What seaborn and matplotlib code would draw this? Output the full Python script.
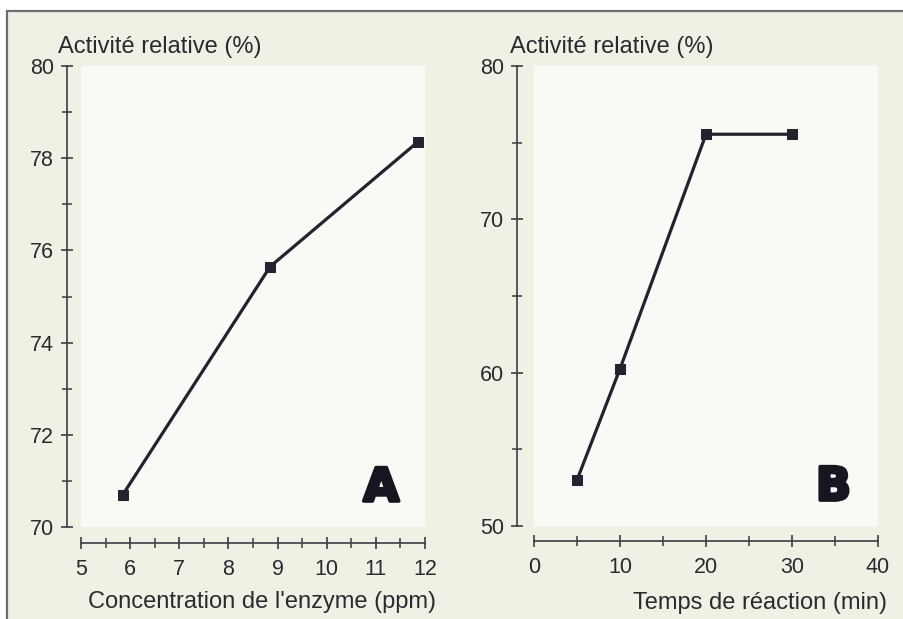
import numpy as np
import pandas as pd
import matplotlib
matplotlib.use("Agg")
import matplotlib.pyplot as plt
import matplotlib.patheffects as pe
from matplotlib.patches import Rectangle
from matplotlib.ticker import MultipleLocator
import seaborn as sns

# Panel A data
conc_ppm = [5.85, 8.85, 11.85]
activity_a = [70.7, 75.65, 78.35]
# Panel B data
time_min = [5, 10, 20, 30]
activity_b = [53.0, 60.25, 75.55, 75.55]

ylabel = "Activité relative (%)"
xlabel_a = "Concentration de l'enzyme (ppm)"
xlabel_b = "Temps de réaction (min)"

sns.set_theme(style="ticks")
plt.rcParams["font.family"] = ["Liberation Sans", "DejaVu Sans"]

W, H = 904, 619
fig = plt.figure(figsize=(W / 100, H / 100), dpi=100, facecolor="white")

# outer frame / page background
fig.patches.append(Rectangle((7 / W, -0.01), 1.0, 1 - 11 / H + 0.01,
                             transform=fig.transFigure, facecolor="#eef1e3",
                             edgecolor="#6e6e72", linewidth=1.6, zorder=-10))

line_col = "#24222f"
axis_col = "#3c3c46"
plot_bg = "#f9faf5"

def px(x0, y0, x1, y1):
    return [x0 / W, 1 - y1 / H, (x1 - x0) / W, (y1 - y0) / H]

axA = fig.add_axes(px(81, 66, 425, 527))
axB = fig.add_axes(px(534, 66, 878, 526))

dfA = pd.DataFrame({"x": conc_ppm, "y": activity_a})
dfB = pd.DataFrame({"x": time_min, "y": activity_b})

for ax, df in [(axA, dfA), (axB, dfB)]:
    sns.lineplot(data=df, x="x", y="y", ax=ax, color=line_col, linewidth=2.3,
                 marker="s", markersize=7, markeredgecolor=line_col,
                 markerfacecolor=line_col, sort=False)
    ax.set_facecolor(plot_bg)

axA.set_xlim(5, 12)
axA.set_ylim(70, 80)
axA.xaxis.set_major_locator(MultipleLocator(1))
axA.xaxis.set_minor_locator(MultipleLocator(0.5))
axA.yaxis.set_major_locator(MultipleLocator(2))
axA.yaxis.set_minor_locator(MultipleLocator(1))

axB.set_xlim(0, 40)
axB.set_ylim(50, 80)
axB.xaxis.set_major_locator(MultipleLocator(10))
axB.xaxis.set_minor_locator(MultipleLocator(5))
axB.yaxis.set_major_locator(MultipleLocator(10))
axB.yaxis.set_minor_locator(MultipleLocator(5))

sns.despine(ax=axA, offset={"left": 10.1, "bottom": 11.5})
sns.despine(ax=axB, offset={"left": 12.2, "bottom": 10.5})

for ax in (axA, axB):
    ax.set_xlabel("")
    ax.set_ylabel("")
    for s in ("left", "bottom"):
        ax.spines[s].set_color(axis_col)
        ax.spines[s].set_linewidth(1.2)
    ax.tick_params(which="major", direction="inout", length=9, width=1.2,
                   color=axis_col, labelsize=15.5, labelcolor="#2a2a30")
    ax.tick_params(which="minor", direction="inout", length=7, width=1.1,
                   color=axis_col)
    ax.tick_params(axis="x", which="major", pad=7)
    ax.tick_params(axis="y", which="major", pad=5)

axA.text((58 - 81) / 344, 1 + (66 - 53) / 461, ylabel, transform=axA.transAxes,
         fontsize=17, color="#2a2a30", ha="left", va="baseline")
axB.text((510 - 534) / 344, 1 + (66 - 53) / 460, ylabel, transform=axB.transAxes,
         fontsize=17, color="#2a2a30", ha="left", va="baseline")

axA.text((436 - 81) / 344, -(608 - 527) / 461, xlabel_a, transform=axA.transAxes,
         fontsize=17, color="#2a2a30", ha="right", va="baseline")
axB.text((887 - 534) / 344, -(609 - 526) / 460, xlabel_b, transform=axB.transAxes,
         fontsize=17, color="#2a2a30", ha="right", va="baseline")

for ax, letter, xr in [(axA, "A", (399 - 81) / 344), (axB, "B", (851 - 534) / 344)]:
    ax.text(xr, (526 - 500) / 461, letter, transform=ax.transAxes, fontsize=33,
            fontweight="heavy", family=["DejaVu Sans"], color="#17151f",
            ha="right", va="baseline",
            path_effects=[pe.withStroke(linewidth=2.6, foreground="#17151f")])

fig.savefig("out.png", dpi=100, facecolor="white")
